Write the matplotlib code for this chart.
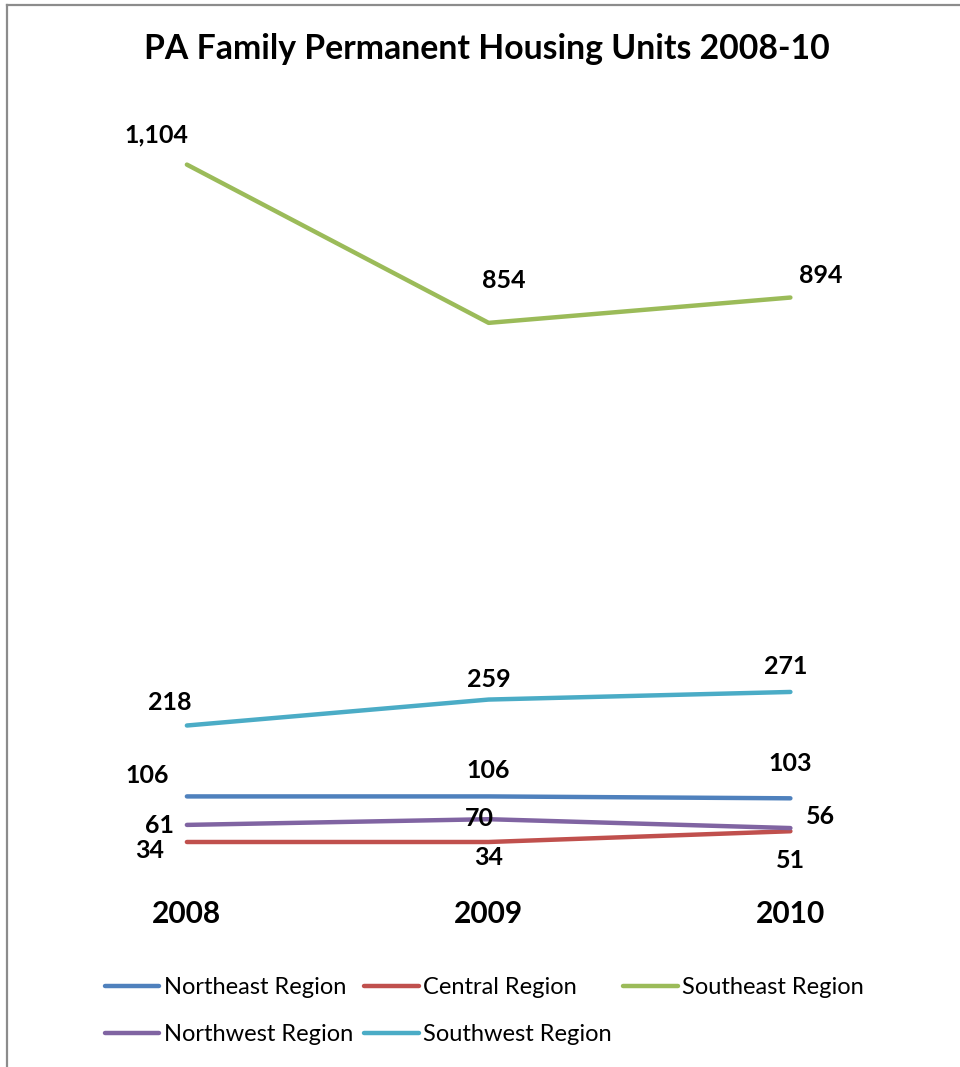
import numpy as np
import matplotlib.pyplot as plt
from matplotlib.lines import Line2D

# === DATA ===
years = ["2008", "2009", "2010"]
northeast = [106, 106, 103]
central = [34, 34, 51]
southeast = [1104, 854, 894]
northwest = [61, 70, 56]
southwest = [218, 259, 271]

# label offsets in pixels (dx, dy) per point
offsets = {
    "Northeast Region": [(-40, 21), (0, 26), (0, 35)],
    "Central Region": [(-37, -9), (0, -16), (0, -29)],
    "Southeast Region": [(-30, 30), (15, 42), (30, 22)],
    "Northwest Region": [(-27, -1), (-9, 1), (30, 12)],
    "Southwest Region": [(-17, 23), (0, 20), (-5, 25)],
}

series = [
    ("Northeast Region", northeast, "#4F81BD"),
    ("Central Region", central, "#C0504D"),
    ("Southeast Region", southeast, "#9BBB59"),
    ("Northwest Region", northwest, "#8064A2"),
    ("Southwest Region", southwest, "#4BACC6"),
]

plt.rcParams['font.family'] = ['Lato', 'DejaVu Sans']

fig = plt.figure(figsize=(9.6, 10.67), dpi=100)
ax = fig.add_axes([0.0375, 0.1907, 0.943, 0.712])

x = np.arange(len(years))
lines = {}
for name, vals, color in series:
    ln, = ax.plot(x, vals, color=color, lw=3.2, solid_capstyle='round', label=name)
    lines[name] = ln
    for xi, v, (dx, dy) in zip(x, vals, offsets[name]):
        ax.annotate(f"{v:,}", (xi, v), xytext=(dx, dy), textcoords='offset pixels',
                    ha='center', va='center', fontsize=18, fontweight='bold')

ax.set_xlim(-0.5, 2.5)
ax.set_ylim(0, 1200)
ax.set_xticks(x)
ax.set_xticklabels(years, fontsize=21.5, fontweight='bold')
ax.tick_params(axis='x', length=0, pad=26)
ax.set_yticks([])
for s in ax.spines.values():
    s.set_visible(False)

fig.text(0.507, 0.954, "PA Family Permanent Housing Units 2008-10",
         ha='center', va='center', fontsize=24.3, fontweight='bold')

# legend, row-major order
order = ["Northeast Region", "Northwest Region", "Central Region",
         "Southwest Region", "Southeast Region"]
fig.legend([lines[n] for n in order], order, ncol=3, loc='upper left',
           bbox_to_anchor=(0.087, 0.104), frameon=False, fontsize=17,
           handlelength=2.3, handletextpad=0.2, columnspacing=0.48,
           labelspacing=1.1)

# chart border (left and top visible)
fig.add_artist(Line2D([0.0075, 0.0075], [0, 0.995], color='#8c8c8c', lw=1.6))
fig.add_artist(Line2D([0.0075, 1.0], [0.995, 0.995], color='#8c8c8c', lw=1.6))

plt.savefig("out.png", dpi=100)
